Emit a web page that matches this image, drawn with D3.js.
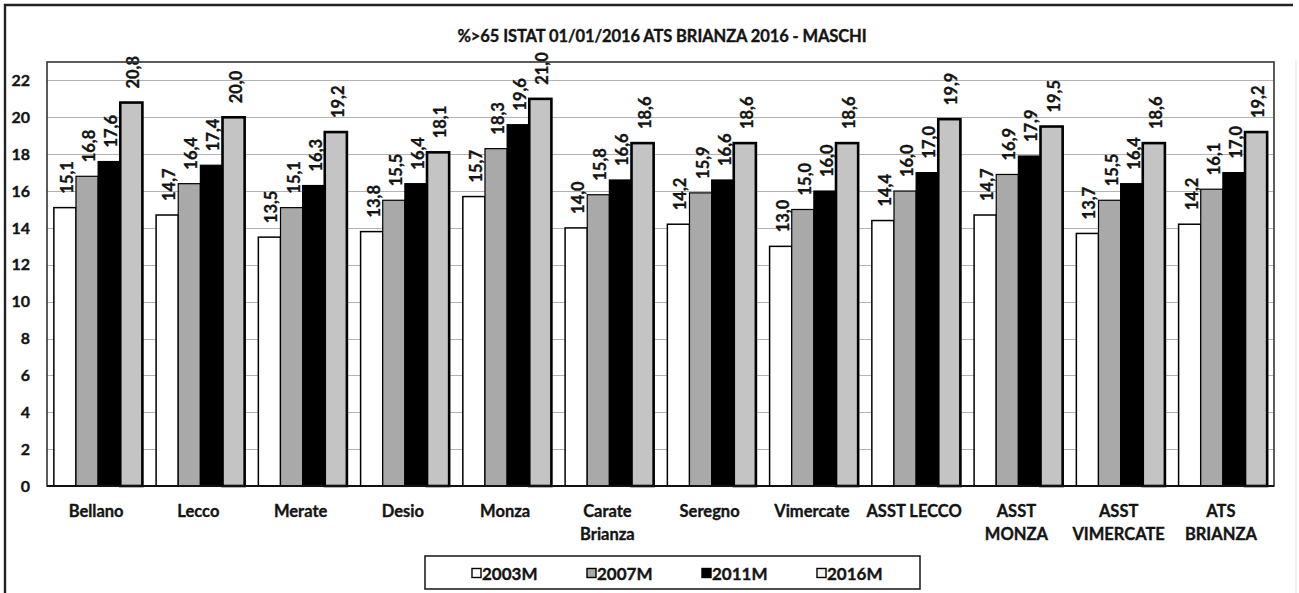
<!DOCTYPE html>
<html>
<head>
<meta charset="utf-8">
<script src="https://cdn.jsdelivr.net/npm/d3@7/dist/d3.min.js"></script>
<style>
  html, body { margin: 0; padding: 0; background: #fff; }
  svg { display: block; }
  text { font-family: Lato, "Open Sans", sans-serif; font-weight: 700; fill: #141414;
         stroke: #141414; stroke-width: 0.35px; }
</style>
</head>
<body>
<svg id="chart" width="1299" height="593"></svg>
<script>
// Share of population aged over 65 (males), by district
const categories = ["Bellano", "Lecco", "Merate", "Desio", "Monza", "Carate\nBrianza", "Seregno",
  "Vimercate", "ASST LECCO", "ASST\nMONZA", "ASST\nVIMERCATE", "ATS\nBRIANZA"];
const seriesNames = ["2003M", "2007M", "2011M", "2016M"];
const v2003 = [15.1, 14.7, 13.5, 13.8, 15.7, 14.0, 14.2, 13.0, 14.4, 14.7, 13.7, 14.2];
const v2007 = [16.8, 16.4, 15.1, 15.5, 18.3, 15.8, 15.9, 15.0, 16.0, 16.9, 15.5, 16.1];
const v2011 = [17.6, 17.4, 16.3, 16.4, 19.6, 16.6, 16.6, 16.0, 17.0, 17.9, 16.4, 17.0];
const v2016 = [20.8, 20.0, 19.2, 18.1, 21.0, 18.6, 18.6, 18.6, 19.9, 19.5, 18.6, 19.2];
const yTicks = [0, 2, 4, 6, 8, 10, 12, 14, 16, 18, 20, 22];
const title = "%>65 ISTAT 01/01/2016  ATS BRIANZA 2016 - MASCHI";

const seriesValues = [v2003, v2007, v2011, v2016];
const fills = ["#ffffff", "#a9a9a9", "#000000", "#c4c4c4"];
const strokes = [1.5, 1.2, 1.2, 2.6];

const svg = d3.select("#chart");
const plot = { left: 47, right: 1274, top: 62, bottom: 486 };

const x0 = d3.scaleBand().domain(categories).range([plot.left, plot.right])
  .paddingInner(0.134).paddingOuter(0.067);
const x1 = d3.scaleBand().domain(seriesNames).range([0, x0.bandwidth()]);
const y = d3.scaleLinear().domain([0, 23]).range([plot.bottom, plot.top]);

// outer chart frame
svg.append("path").attr("d", "M5,593V5H1293").attr("fill", "none")
  .attr("stroke", "#222").attr("stroke-width", 2.4);
svg.append("line").attr("x1", 1296).attr("x2", 1296).attr("y1", 60).attr("y2", 593)
  .attr("stroke", "#e2e2e2").attr("stroke-width", 1);

// title
svg.append("text").attr("x", 662).attr("y", 42).attr("text-anchor", "middle")
  .style("font-size", "16.5px").style("letter-spacing", "-0.1px").text(title);

// gridlines
svg.append("g").selectAll("line").data(yTicks.filter(d => d > 0)).join("line")
  .attr("x1", plot.left).attr("x2", plot.right)
  .attr("y1", d => Math.round(y(d)) + 0.5).attr("y2", d => Math.round(y(d)) + 0.5)
  .attr("stroke", "#b3b3b3").attr("stroke-width", 1);

// y axis labels
const yAxis = d3.axisLeft(y).tickValues(yTicks).tickSize(0).tickPadding(0);
const yg = svg.append("g").attr("transform", `translate(${plot.left - 17},0)`).call(yAxis);
yg.select(".domain").remove();
yg.selectAll("text").style("font-size", "16px").style("font-family", "Lato, sans-serif")
  .style("font-weight", 700).attr("fill", "#141414");

// bars
const groups = svg.append("g").selectAll("g").data(categories).join("g")
  .attr("transform", d => `translate(${x0(d)},0)`);

seriesNames.forEach((s, si) => {
  groups.append("rect")
    .attr("x", x1(s))
    .attr("width", x1.bandwidth())
    .attr("y", (d, i) => y(seriesValues[si][i]))
    .attr("height", (d, i) => y(0) - y(seriesValues[si][i]))
    .attr("fill", fills[si])
    .attr("stroke", "#000")
    .attr("stroke-width", strokes[si]);
});

// value labels (rotated)
const fmt = v => d3.format(".1f")(v).replace(".", ",");
seriesNames.forEach((s, si) => {
  groups.append("text")
    .attr("transform", (d, i) => {
      const cx = x1(s) + x1.bandwidth() / 2 + 2;
      const cy = y(seriesValues[si][i]) - 14;
      return `translate(${cx},${cy}) rotate(-90)`;
    })
    .attr("text-anchor", "start")
    .attr("dominant-baseline", "central")
    .style("font-size", "16.5px")
    .text((d, i) => fmt(seriesValues[si][i]));
});

// plot area border and zero line
svg.append("rect").attr("x", plot.left).attr("y", plot.top)
  .attr("width", plot.right - plot.left).attr("height", plot.bottom - plot.top)
  .attr("fill", "none").attr("stroke", "#333").attr("stroke-width", 1.6);
svg.append("line").attr("x1", plot.left).attr("x2", plot.right)
  .attr("y1", y(0)).attr("y2", y(0)).attr("stroke", "#111").attr("stroke-width", 2);

// category labels
const catLabels = svg.append("g").selectAll("text").data(categories).join("text")
  .attr("x", d => x0(d) + x0.bandwidth() / 2 - 2)
  .attr("y", 517)
  .attr("text-anchor", "middle")
  .style("font-size", "16.5px");
catLabels.selectAll("tspan").data(d => d.split("\n")).join("tspan")
  .attr("x", function () { return d3.select(this.parentNode).attr("x"); })
  .attr("dy", (d, i) => i === 0 ? 0 : 23)
  .text(d => d);

// legend
const legend = svg.append("g");
legend.append("rect").attr("x", 425).attr("y", 556).attr("width", 495).attr("height", 33)
  .attr("fill", "#fff").attr("stroke", "#222").attr("stroke-width", 1.6);
const legendX = d3.scalePoint().domain(seriesNames).range([472, 817]);
const items = legend.selectAll("g").data(seriesNames).join("g")
  .attr("transform", d => `translate(${legendX(d)},573)`);
items.append("rect").attr("x", 0).attr("y", -4.5).attr("width", 9).attr("height", 9)
  .attr("fill", (d, i) => i === 3 ? "#f4f4f4" : fills[i])
  .attr("stroke", "#000").attr("stroke-width", 1.4);
items.append("text").attr("x", 10).attr("y", 0).attr("dominant-baseline", "central")
  .style("font-size", "17px").text(d => d);
</script>
</body>
</html>
